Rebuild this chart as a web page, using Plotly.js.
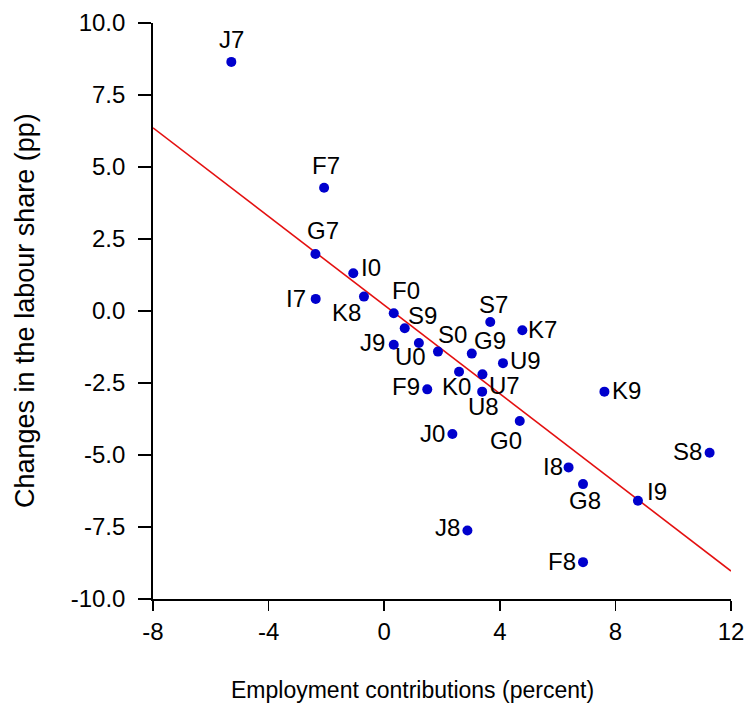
<!DOCTYPE html>
<html>
<head>
<meta charset="utf-8">
<script src="https://cdn.plot.ly/plotly-3.0.1.min.js"></script>
<style>html,body{margin:0;padding:0;background:#fff;}#chart{width:746px;height:711px;}</style>
</head>
<body>
<div id="chart"></div>
<script>
// Data
const labels = ["J7","F7","G7","I0","I7","K8","F0","S9","J9","U0","S0","G9","S7","K7","U9","K0","U7","F9","U8","G0","J0","K9","S8","I8","G8","I9","J8","F8"];
const employment = [-5.29,-2.08,-2.38,-1.07,-2.37,-0.70,0.33,0.71,0.33,1.20,1.86,3.03,3.67,4.78,4.11,2.59,3.40,1.49,3.39,4.69,2.36,7.62,11.26,6.38,6.88,8.78,2.88,6.88];
const labourShare = [8.65,4.28,1.98,1.31,0.42,0.50,-0.08,-0.60,-1.17,-1.11,-1.41,-1.48,-0.38,-0.67,-1.81,-2.11,-2.20,-2.72,-2.80,-3.82,-4.27,-2.80,-4.92,-5.43,-6.01,-6.59,-7.62,-8.72];
const fitX = [-8, 12];
const fitY = [6.36, -9.03];
const xTicks = [-8,-4,0,4,8,12];
const xTickText = ["-8","-4","0","4","8","12"];
const yTicks = [-10,-7.5,-5,-2.5,0,2.5,5,7.5,10];
const yTickText = ["-10.0","-7.5","-5.0","-2.5","0.0","2.5","5.0","7.5","10.0"];
const xTitle = "Employment contributions (percent)";
const yTitle = "Changes in the labour share (pp)";

// Label offsets from each dot, in screen pixels (style, not data)
const labelDx = [0,2,8,18,-19.5,-17,12,18,-21.5,-8,15,18,3,20,23,-3,22,-21,1,-14,-19.5,22,-22,-16,2,19,-19.5,-21];
const labelDy = [-21,-21,-22,-5,1,17,-22,-12,-1,15,-16,-12,-16,0,-2,16,12,-2,16,20,1,0,0,0,17,-8,-2,0];

const font = "Liberation Sans, Arial, sans-serif";

const traces = [
  {x: fitX, y: fitY, mode: "lines", line: {color: "rgb(228,16,16)", width: 1.6}, hoverinfo: "skip"},
  {x: employment, y: labourShare, mode: "markers", marker: {color: "rgb(0,0,205)", size: 10}}
];

const annotations = labels.map((t, i) => ({
  x: employment[i], y: labourShare[i], xref: "x", yref: "y", text: t, showarrow: false,
  xanchor: "center", yanchor: "middle", xshift: labelDx[i], yshift: -labelDy[i] + 1,
  font: {family: font, size: 24, color: "#000"}
}));
annotations.push({
  xref: "paper", yref: "paper", x: (412 - 153) / 578, y: (599 - 690) / 576,
  xanchor: "center", yanchor: "middle", showarrow: false, text: xTitle,
  font: {family: font, size: 23, color: "#000"}
});
annotations.push({
  xref: "paper", yref: "paper", x: (25 - 153) / 578, y: 0.5, textangle: -90,
  xanchor: "center", yanchor: "middle", showarrow: false, text: yTitle,
  font: {family: font, size: 27, color: "#000"}
});

const layout = {
  width: 746, height: 711,
  margin: {l: 153, r: 15, t: 23, b: 112},
  showlegend: false,
  paper_bgcolor: "#fff", plot_bgcolor: "#fff",
  font: {family: font, size: 24, color: "#000"},
  annotations: annotations,
  xaxis: {
    range: [-8, 12], tickvals: xTicks, ticktext: xTickText, ticks: "outside", ticklen: 10, tickwidth: 1.6, tickcolor: "#000",
    showline: true, linecolor: "#000", linewidth: 1.8, showgrid: false, zeroline: false,
    tickfont: {family: font, size: 24}
  },
  yaxis: {
    range: [-10, 10], tickvals: yTicks, ticktext: yTickText, ticks: "outside", ticklen: 13, tickwidth: 1.6, tickcolor: "#000",
    showline: true, linecolor: "#000", linewidth: 1.8, showgrid: false, zeroline: false,
    ticklabelstandoff: 8,
    tickfont: {family: font, size: 24}
  }
};

Plotly.newPlot("chart", traces, layout, {displayModeBar: false, staticPlot: true});
</script>
</body>
</html>
